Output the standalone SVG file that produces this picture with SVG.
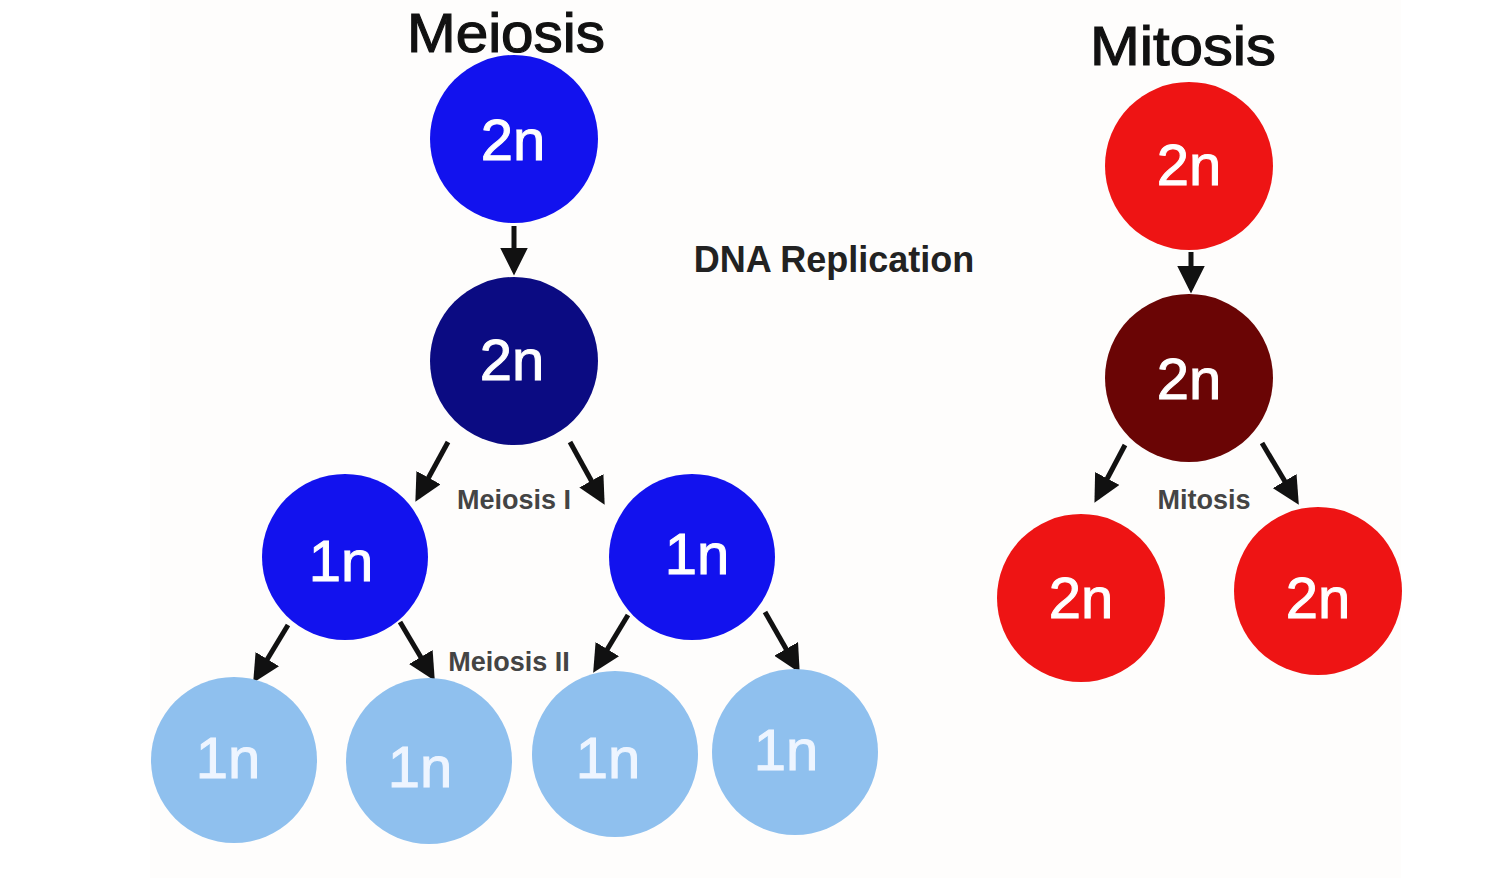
<svg xmlns="http://www.w3.org/2000/svg" width="1488" height="878" viewBox="0 0 1488 878">
<defs>
<marker id="ah" viewBox="0 0 10 10" refX="8" refY="5" markerWidth="5.5" markerHeight="5.5" markerUnits="strokeWidth" orient="auto">
<path d="M0,0 L10,5 L0,10 z" fill="#111"/>
</marker>
<style>
.title{font-family:"Liberation Sans",Arial,sans-serif;font-size:56px;fill:#111;stroke:#111;stroke-width:1.2;text-anchor:middle}
.lbl{font-family:"Liberation Sans",Arial,sans-serif;font-size:58px;fill:#fff;stroke:#fff;stroke-width:1;text-anchor:middle;dominant-baseline:central}
.step{font-family:"Liberation Sans",Arial,sans-serif;font-size:27px;font-weight:bold;fill:#444;text-anchor:middle}
.lb .lbl{fill:#eef5ff;stroke:#eef5ff}
.arr{stroke:#111;stroke-width:5;fill:none;marker-end:url(#ah)}
</style>
</defs>
<rect width="1488" height="878" fill="#ffffff"/>
<rect x="150" y="0" width="1251" height="878" fill="#fefdfc"/>
<text class="title" x="506" y="52" textLength="198" lengthAdjust="spacingAndGlyphs">Meiosis</text>
<text class="title" x="1183" y="65" textLength="186" lengthAdjust="spacingAndGlyphs">Mitosis</text>
<text x="834" y="272" font-family="Liberation Sans, Arial, sans-serif" font-size="36" font-weight="bold" fill="#222" text-anchor="middle">DNA Replication</text>
<text class="step" x="514" y="509">Meiosis I</text>
<text class="step" x="509" y="671">Meiosis II</text>
<text class="step" x="1204" y="509">Mitosis</text>
<g id="connectors">
<line class="arr" x1="514" y1="226" x2="514" y2="270"/>
<line class="arr" x1="448" y1="442" x2="418" y2="497"/>
<line class="arr" x1="570" y1="442" x2="602" y2="500"/>
<line class="arr" x1="288" y1="625" x2="256" y2="678"/>
<line class="arr" x1="400" y1="622" x2="432" y2="676"/>
<line class="arr" x1="628" y1="615" x2="596" y2="668"/>
<line class="arr" x1="765" y1="612" x2="797" y2="668"/>
<line class="arr" x1="1191" y1="252" x2="1191" y2="288"/>
<line class="arr" x1="1125" y1="445" x2="1097" y2="498"/>
<line class="arr" x1="1262" y1="443" x2="1296" y2="500"/>
</g>
<g id="me1"><circle cx="514" cy="139" r="84" fill="#1212ee"/><text class="lbl" x="513" y="139">2n</text></g>
<g id="me2"><circle cx="514" cy="361" r="84" fill="#0b0b82"/><text class="lbl" x="512" y="359">2n</text></g>
<g id="me3"><circle cx="345" cy="557" r="83" fill="#1212ee"/><text class="lbl" x="341" y="560">1n</text></g>
<g id="me4"><circle cx="692" cy="557" r="83" fill="#1212ee"/><text class="lbl" x="697" y="553">1n</text></g>
<g id="me5" class="lb"><circle cx="234" cy="760" r="83" fill="#8fc0ee"/><text class="lbl" x="228" y="757">1n</text></g>
<g id="me6" class="lb"><circle cx="429" cy="761" r="83" fill="#8fc0ee"/><text class="lbl" x="420" y="766">1n</text></g>
<g id="me7" class="lb"><circle cx="615" cy="754" r="83" fill="#8fc0ee"/><text class="lbl" x="608" y="757">1n</text></g>
<g id="me8" class="lb"><circle cx="795" cy="752" r="83" fill="#8fc0ee"/><text class="lbl" x="786" y="749">1n</text></g>
<g id="mi1"><circle cx="1189" cy="166" r="84" fill="#ee1414"/><text class="lbl" x="1189" y="164">2n</text></g>
<g id="mi2"><circle cx="1189" cy="378" r="84" fill="#6a0505"/><text class="lbl" x="1189" y="378">2n</text></g>
<g id="mi3"><circle cx="1081" cy="598" r="84" fill="#ee1414"/><text class="lbl" x="1081" y="597">2n</text></g>
<g id="mi4"><circle cx="1318" cy="591" r="84" fill="#ee1414"/><text class="lbl" x="1318" y="597">2n</text></g>
</svg>
